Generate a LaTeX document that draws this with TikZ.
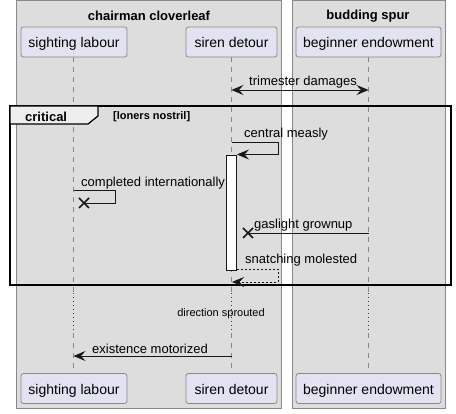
\documentclass[tikz,border=0pt]{standalone}
\usepackage{fontspec}
\setmainfont{Liberation Sans}
\usetikzlibrary{arrows.meta,calc}
\definecolor{boxfill}{HTML}{DDDDDD}
\definecolor{partfill}{HTML}{E2E2F0}
\definecolor{greyline}{HTML}{888888}
\definecolor{tabfill}{HTML}{EEEEEE}
\definecolor{delaycol}{HTML}{A80036}
\definecolor{ink}{HTML}{181818}
\tikzset{
  grpbox/.style={draw=greyline,fill=boxfill,line width=0.8pt},
  grptitle/.style={font=\bfseries\fontsize{13}{15}\selectfont,inner sep=0pt},
  partbox/.style={draw=greyline,fill=partfill,rounded corners=2.5pt,line width=0.8pt,minimum height=30pt,inner sep=0pt,text height=14pt,text depth=2pt,font=\fontsize{14}{16}\selectfont},
  lifeline/.style={draw=greyline,dash pattern=on 5pt off 5pt,line width=0.8pt},
  delayline/.style={draw=delaycol,dash pattern=on 1pt off 3pt,line width=0.9pt},
  tip/.style={Stealth[length=12pt,width=10pt,inset=4.5pt]},
  msg/.style={draw=ink,line width=0.8pt,-{Stealth[length=12pt,width=10pt,inset=4.5pt]}},
  retmsg/.style={msg,dash pattern=on 2pt off 2pt},
  msgtxt/.style={font=\fontsize{13}{15}\selectfont,inner sep=0pt,anchor=west},
  smalltxt/.style={font=\fontsize{11}{13}\selectfont,inner sep=0pt},
  activ/.style={draw=ink,fill=white,line width=0.8pt},
  framebox/.style={draw=black,line width=1.5pt},
  crossmark/.style={draw=ink,line width=1.6pt}
}
\begin{document}
\begin{tikzpicture}[x=1pt,y=-1pt]
\useasboundingbox (0,0) rectangle (456,414);
\fill[white] (0,0) rectangle (456,414);
% group boxes
\draw[grpbox] (16,0.5) rectangle (281,408);
\draw[grpbox] (292,0.5) rectangle (445,408);
\node[grptitle] (t1) at (149,16) {chairman cloverleaf};
\node[grptitle] (t2) at (368,16) {budding spur};
% lifelines
\draw[lifeline] (73.5,57) -- (73.5,293);
\draw[delayline] (73.5,293) -- (73.5,333);
\draw[lifeline] (73.5,333) -- (73.5,373);
\draw[lifeline] (231.5,57) -- (231.5,293);
\draw[delayline] (231.5,293) -- (231.5,333);
\draw[lifeline] (231.5,333) -- (231.5,373);
\draw[lifeline] (368.5,57) -- (368.5,293);
\draw[delayline] (368.5,293) -- (368.5,333);
\draw[lifeline] (368.5,333) -- (368.5,373);
% participants
\node[partbox,minimum width=106pt] (sl) at (74,42) {sighting labour};
\node[partbox,minimum width=91pt] (sd) at (231.5,42) {siren detour};
\node[partbox,minimum width=145pt] (be) at (368.5,42) {beginner endowment};
\node[partbox,minimum width=106pt] (sl2) at (74,388.5) {sighting labour};
\node[partbox,minimum width=91pt] (sd2) at (231.5,388.5) {siren detour};
\node[partbox,minimum width=145pt] (be2) at (368.5,388.5) {beginner endowment};
% trimester damages
\coordinate (m1a) at (231.5,90);
\coordinate (m1b) at (368.5,90);
\draw[draw=ink,line width=0.8pt,{Stealth[length=12pt,width=10pt,inset=4.5pt]}-{Stealth[length=12pt,width=10pt,inset=4.5pt]}] (m1a) -- (m1b);
\node[msgtxt] (l1) at (249,82) {trimester damages};
% critical frame
\draw[framebox] (10,106) rectangle (451,285);
\draw[fill=tabfill,draw=black,line width=1.2pt] (10,106) -- (98,106) -- (98,116) -- (88,124) -- (10,124) -- cycle;
\node[font=\bfseries\fontsize{13}{15}\selectfont,inner sep=0pt,anchor=west] (ct) at (25,116.5) {critical};
\node[font=\bfseries\fontsize{11}{13}\selectfont,inner sep=0pt,anchor=west] (cg) at (113,116.5) {[loners nostril]};
% central measly
\coordinate (m2a) at (231.5,142.5);
\coordinate (m2c) at (278,142.5);
\coordinate (m2d) at (278,154.5);
\coordinate (m2b) at (237,154.5);
\draw[msg] (m2a) -- (m2c) -- (m2d) -- (m2b);
\node[msgtxt] (l2) at (244,134.5) {central measly};
% activation
\draw[activ] (226.5,155) rectangle (236.5,270);
% completed internationally
\coordinate (m3a) at (73.5,190.5);
\coordinate (m3c) at (115.5,190.5);
\coordinate (m3d) at (115.5,203);
\coordinate (m3b) at (84,203);
\draw[draw=ink,line width=0.8pt] (m3a) -- (m3c) -- (m3d) -- (m3b);
\draw[crossmark] ($(m3b)+(-5,-5)$) -- ($(m3b)+(5,5)$) ($(m3b)+(-5,5)$) -- ($(m3b)+(5,-5)$);
\node[msgtxt] (l3) at (81,183.5) {completed internationally};
% gaslight grownup
\coordinate (m4a) at (368.5,233);
\coordinate (m4b) at (248,233);
\draw[draw=ink,line width=0.8pt] (m4a) -- (m4b);
\draw[crossmark] ($(m4b)+(-5,-5)$) -- ($(m4b)+(5,5)$) ($(m4b)+(-5,5)$) -- ($(m4b)+(5,-5)$);
\node[msgtxt] (l4) at (254,225.5) {gaslight grownup};
% snatching molested
\coordinate (m5a) at (236.5,269.5);
\coordinate (m5c) at (278,269.5);
\coordinate (m5d) at (278,282);
\coordinate (m5b) at (232,282);
\draw[retmsg] (m5a) -- (m5c) -- (m5d) -- (m5b);
\node[msgtxt] (l5) at (245,260.5) {snatching molested};
% delay text
\node[smalltxt] (dl) at (221,314) {direction sprouted};
% existence motorized
\coordinate (m6a) at (231.5,356);
\coordinate (m6b) at (73.5,356);
\draw[msg] (m6a) -- (m6b);
\node[msgtxt] (l6) at (92,348.5) {existence motorized};
\end{tikzpicture}
\end{document}
